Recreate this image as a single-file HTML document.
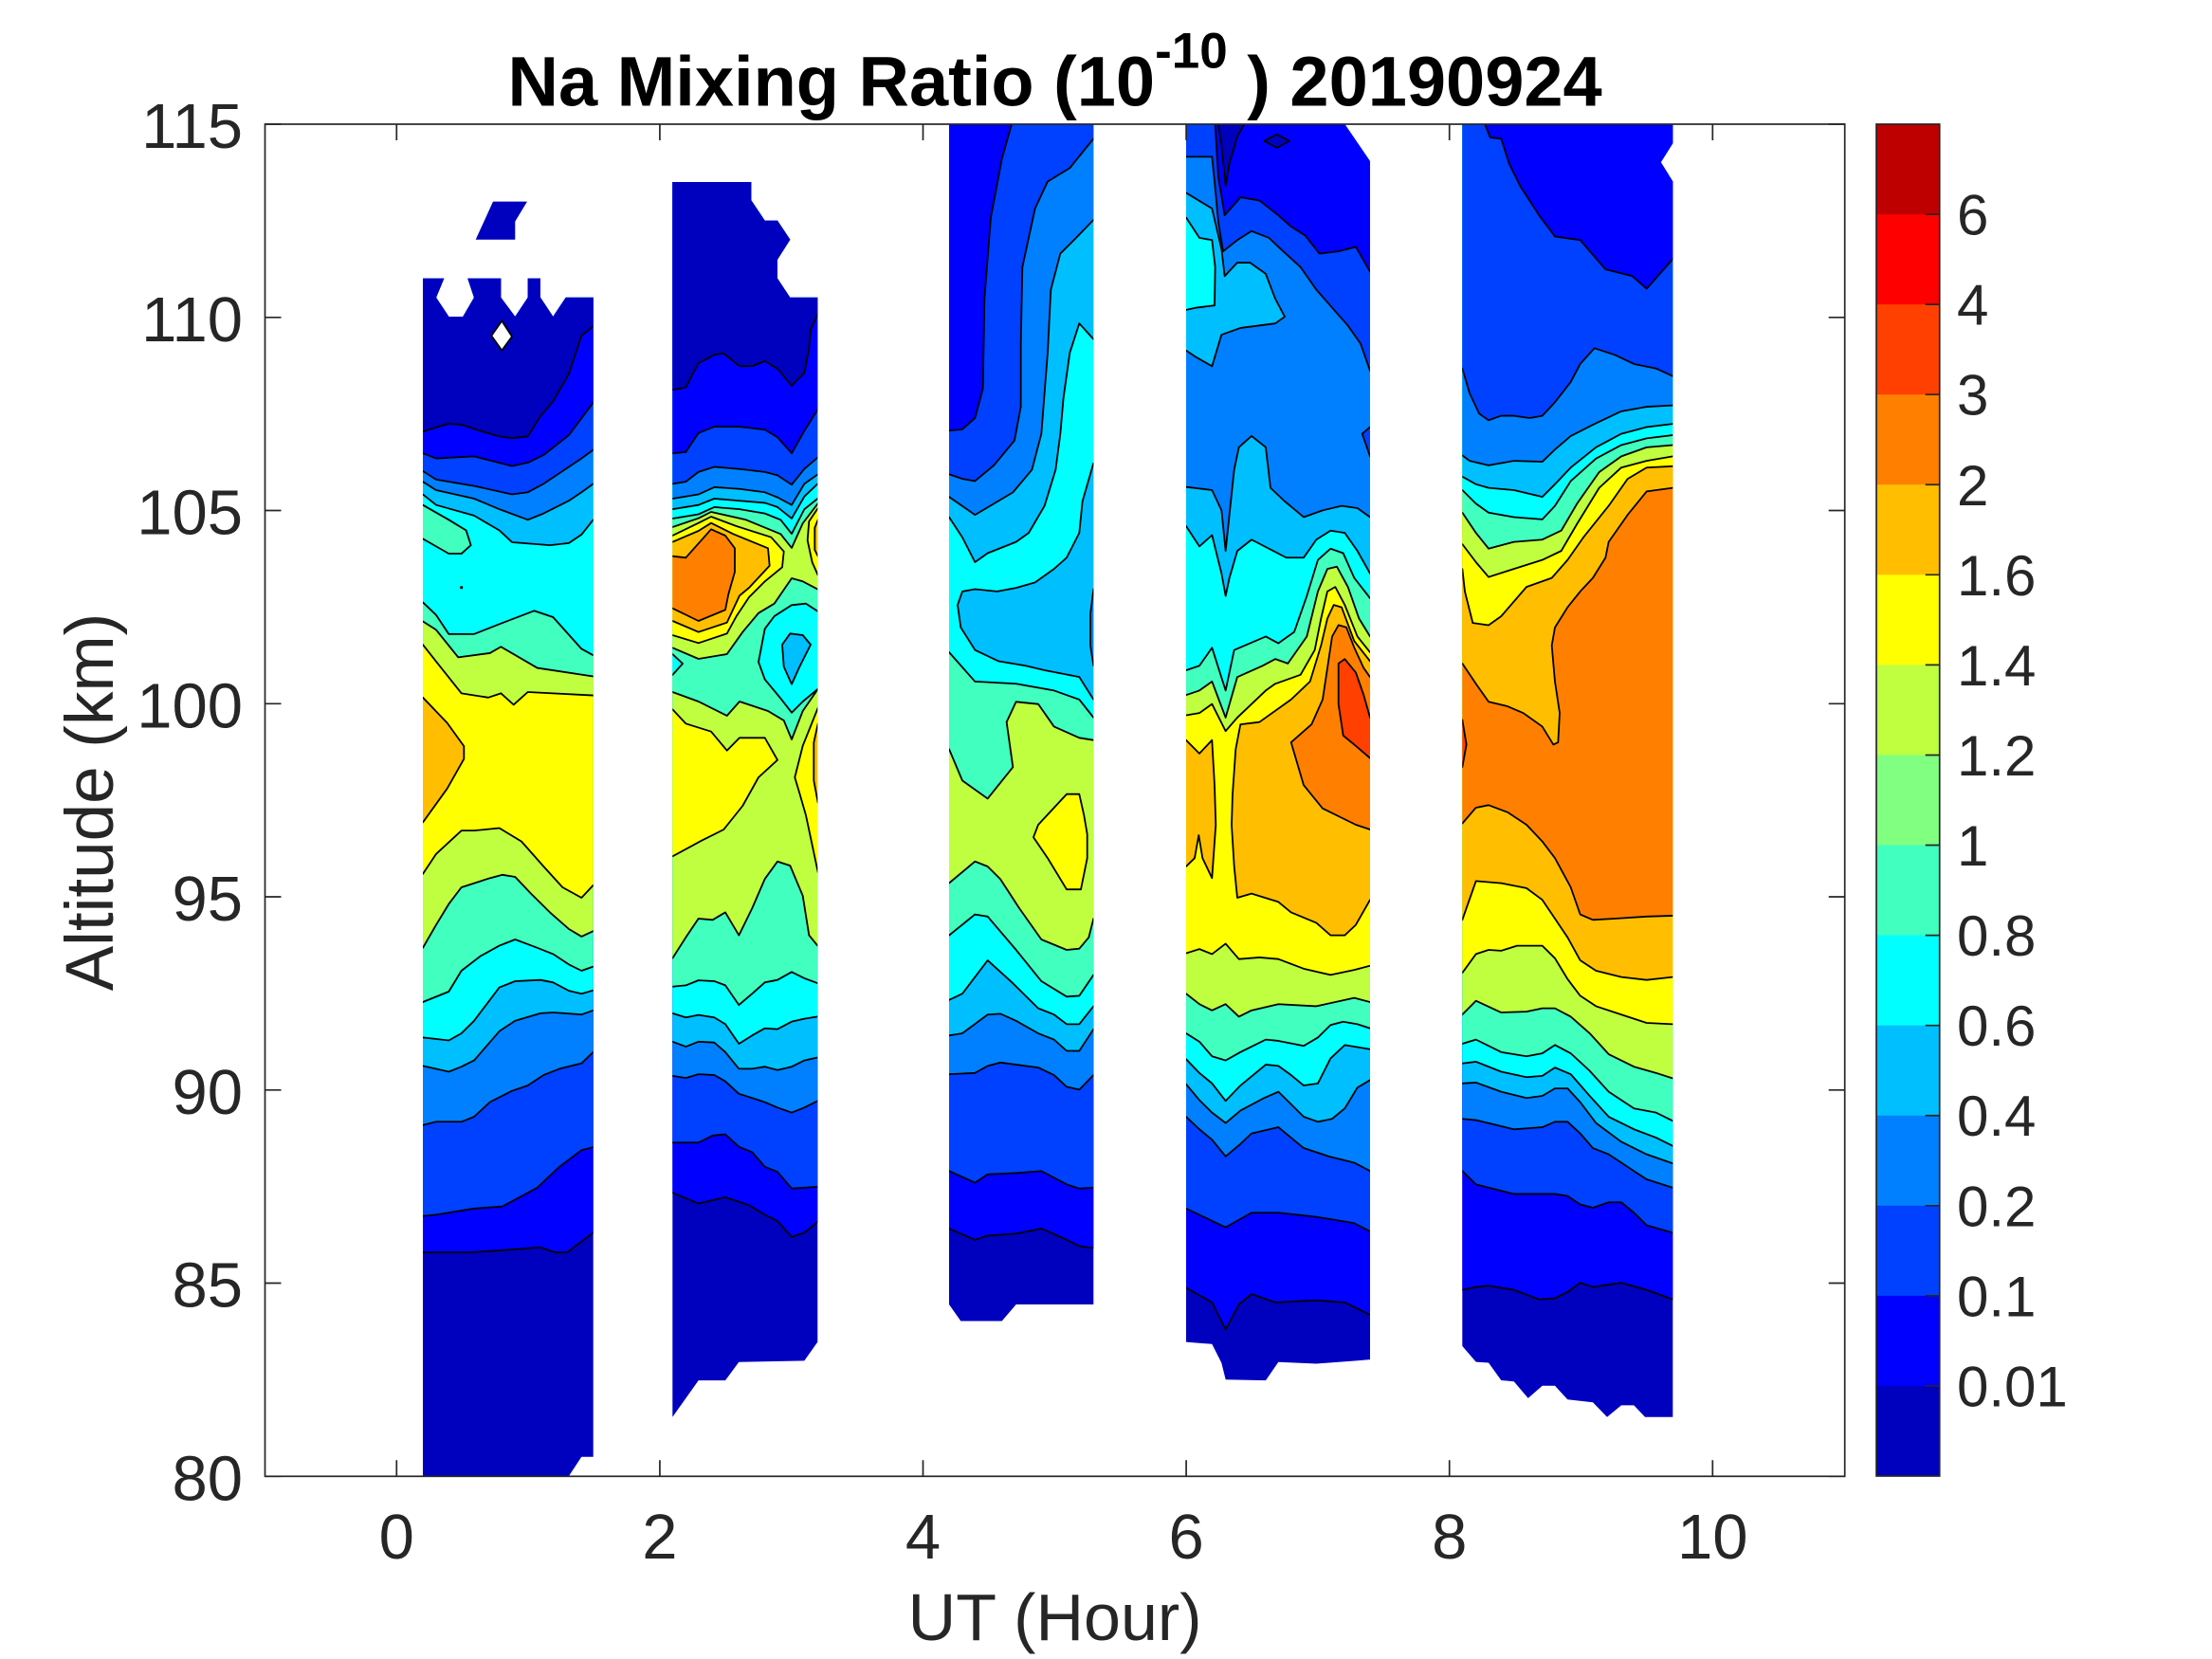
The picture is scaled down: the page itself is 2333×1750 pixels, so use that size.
<!DOCTYPE html>
<html><head><meta charset="utf-8"><style>
html,body{margin:0;padding:0;background:#fff}
svg{display:block}
svg polygon{vector-effect:non-scaling-stroke;stroke:#000;stroke-width:1.8;stroke-linejoin:round}
svg .ns{stroke:none}
.c0{fill:#0000BF}.c1{fill:#0000FF}.c2{fill:#0040FF}.c3{fill:#0080FF}.c4{fill:#00BFFF}.c5{fill:#00FFFF}
.c6{fill:#40FFBF}.c7{fill:#BFFF40}.c8{fill:#FFFF00}.c9{fill:#FFBF00}.c10{fill:#FF8000}.c11{fill:#FF4000}
text{font-family:"Liberation Sans",Arial,sans-serif;fill:#262626}
</style></head><body>
<svg width="2333" height="1750" viewBox="0 0 2333 1750" xmlns="http://www.w3.org/2000/svg">
<defs>
<clipPath id="k1"><polygon class="ns" points="446,293.8 468.3,293.8 460,313.9 473.3,334 488.3,334 500,313.9 493.3,293.8 528.3,293.8 528.3,313.9 543.3,334 556.7,313.9 556.7,293.8 570,293.8 570,313.9 583.3,334 596.7,313.9 625.7,313.9 625.7,1536.7 613.3,1536.7 600,1557 446,1557"/></clipPath>
<clipPath id="k2"><polygon class="ns" points="709.3,192 792.3,192 792.3,211.3 806.7,232.7 820,232.7 833.3,252.8 820,273.8 820,293.8 833.3,313.9 862.3,313.9 862.3,1415.6 848.3,1435.4 779.3,1436.7 765,1456.1 736.7,1456.1 709.3,1494.8"/></clipPath>
<clipPath id="k3"><polygon class="ns" points="1001,131 1153.3,131 1153.3,1376 1071.7,1376 1056.7,1393.5 1013.3,1393.5 1001,1376"/></clipPath>
<clipPath id="k4"><polygon class="ns" points="1251,131 1418.3,131 1445,170.1 1445,1434.1 1430,1435.4 1388.3,1438.5 1348.3,1436.7 1335,1456.1 1292.7,1455.2 1288.3,1437.6 1278.3,1417.8 1251,1415.6"/></clipPath>
<clipPath id="k5"><polygon class="ns" points="1542.3,131 1764.3,131 1764.3,151.1 1751.7,171.1 1764.3,191.5 1764.3,1494.7 1735,1494.7 1723.3,1482.4 1710,1482.4 1695,1494.7 1680,1479.3 1653.3,1476.3 1640,1461.7 1626.7,1461.7 1611.7,1474.9 1596.7,1457.3 1583.3,1456 1570,1437.5 1556.7,1436.6 1542.3,1419.9"/></clipPath>
</defs>

<!-- ============ COLUMN 1 ============ -->
<g clip-path="url(#k1)">
<rect class="c0" x="430" y="200" width="220" height="1400"/>
<g transform="translate(440,870) scale(0.33333,0.44)">
<polygon class="c1" points="-30,1025 18,1025 170,1025 270,1020 390,1013 435,1025 475,1025 557,978 600,978 600,-5000 -30,-5000"/>
<polygon class="c2" points="-30,938 18,938 60,935 180,920 270,915 380,870 450,820 520,780 557,773 600,773 600,-5000 -30,-5000"/>
<polygon class="c3" points="-30,720 18,720 60,712 140,712 180,700 230,665 300,638 350,625 400,600 450,585 520,572 557,545 600,545 600,-5000 -30,-5000"/>
<polygon class="c4" points="-30,578 18,578 100,592 140,580 180,565 260,495 310,470 390,452 430,450 520,455 557,445 600,445 600,-5000 -30,-5000"/>
<polygon class="c5" points="-30,510 18,510 100,517 140,500 180,470 260,390 310,375 390,372 430,378 480,398 520,405 557,397 600,397 600,-5000 -30,-5000"/>
<polygon class="c6" points="-30,425 18,425 100,400 140,350 200,315 260,290 310,275 380,295 430,310 480,335 520,350 557,340 600,340 600,-5000 -30,-5000"/>
<polygon class="c7" points="-30,295 18,295 60,240 100,190 140,150 230,128 270,120 310,125 360,165 420,210 480,250 520,268 557,255 600,255 600,-5000 -30,-5000"/>
<polygon class="c8" points="-30,118 18,118 60,70 140,14 180,14 260,8 330,40 400,100 460,150 520,175 557,145 600,145 600,-5000 -30,-5000"/>
</g>
<g transform="translate(440,180) scale(0.33333,0.44643)">
<polygon class="c7" points="-30,1120 18,1120 60,1160 140,1235 225,1245 265,1235 305,1262 350,1232 557,1240 600,1240 600,-5000 -30,-5000"/>
<polygon class="c6" points="-30,1065 18,1065 60,1085 130,1150 230,1140 265,1125 380,1175 557,1195 600,1195 600,-5000 -30,-5000"/>
<polygon class="c5" points="-30,1020 18,1020 60,1050 100,1095 180,1095 265,1070 370,1040 430,1055 520,1130 557,1145 600,1145 600,-5000 -30,-5000"/>
<polygon class="c4" points="-30,765 18,765 60,790 180,815 260,850 300,878 420,885 480,880 520,860 557,825 600,825 600,-5000 -30,-5000"/>
<polygon class="c3" points="-30,735 18,735 60,755 180,775 260,800 350,825 400,810 480,780 520,760 557,740 600,740 600,-5000 -30,-5000"/>
<polygon class="c2" points="-30,710 18,710 60,730 180,745 300,765 350,760 400,740 480,700 520,680 557,660 600,660 600,-5000 -30,-5000"/>
<polygon class="c1" points="-30,668 18,668 60,680 180,675 300,698 350,690 400,672 480,625 520,585 557,548 600,548 600,-5000 -30,-5000"/>
<polygon class="c0" points="-30,617 18,617 45,610 100,598 140,600 200,615 260,628 300,632 350,628 390,580 430,545 480,480 520,390 557,368 600,368 600,-5000 -30,-5000"/>
<polygon class="c6" points="-30,790 18,790 100,825 155,850 170,885 140,905 100,905 18,870 -30,870"/>
<polygon class="c9" points="-30,1245 18,1245 95,1305 148,1360 148,1390 95,1460 18,1540 -30,1540"/>
</g>
<polygon fill="#fff" points="518.3,354.1 529.3,338.5 540,355 529.3,369.7"/>
<circle cx="486.7" cy="619.7" r="1.6" fill="#000"/>
</g>
<polygon class="c0 ns" points="501.7,252.8 520,212.6 556,212.6 543.3,233.6 543.3,252.8"/>

<!-- ============ COLUMN 2 ============ -->
<g clip-path="url(#k2)">
<rect class="c0" x="690" y="180" width="200" height="1330"/>
<g transform="translate(440,870) scale(0.33333,0.44)">
<polygon class="c1" points="770,882 808,882 890,908 975,893 1050,912 1100,935 1140,950 1185,988 1225,978 1267,952 1310,952 1310,-5000 770,-5000"/>
<polygon class="c2" points="770,762 808,762 890,762 935,745 975,742 1018,772 1060,785 1100,820 1140,832 1185,872 1267,868 1310,868 1310,-5000 770,-5000"/>
<polygon class="c3" points="770,602 808,602 850,607 890,598 940,600 975,615 1018,645 1060,655 1100,665 1140,678 1185,690 1225,678 1267,662 1310,662 1310,-5000 770,-5000"/>
<polygon class="c4" points="770,520 808,520 850,532 890,520 940,522 975,545 1018,585 1060,585 1100,580 1140,588 1185,580 1225,565 1267,558 1310,558 1310,-5000 770,-5000"/>
<polygon class="c5" points="770,452 808,452 850,462 890,456 940,462 975,478 1018,525 1060,505 1100,488 1140,490 1185,472 1225,465 1267,460 1310,460 1310,-5000 770,-5000"/>
<polygon class="c6" points="770,388 808,388 850,385 890,373 940,375 975,385 1018,432 1060,405 1100,378 1140,372 1185,353 1225,368 1267,380 1310,380 1310,-5000 770,-5000"/>
<polygon class="c7" points="770,320 808,320 850,270 890,225 935,228 975,210 1018,265 1060,200 1100,130 1140,88 1180,98 1220,170 1240,265 1267,290 1310,290 1310,-5000 770,-5000"/>
</g>
<polygon class="c6" points="696,730 709.3,730 736.7,740 766.7,755 780,740 810,750 826.7,760 835,780 846.7,750 862.7,726.7 876,726.7 876,-500 696,-500"/>
<g transform="translate(440,180) scale(0.33333,0.44643)">
<polygon class="c5" points="770,822 808,822 890,812 940,795 1020,800 1100,810 1150,825 1185,858 1225,800 1267,775 1310,775 1310,-5000 770,-5000"/>
<polygon class="c4" points="770,800 808,800 890,790 940,775 1020,780 1100,785 1140,795 1185,822 1225,770 1267,740 1310,740 1310,-5000 770,-5000"/>
<polygon class="c3" points="770,775 808,775 890,765 940,748 1020,752 1100,760 1140,772 1185,790 1225,740 1267,718 1310,718 1310,-5000 770,-5000"/>
<polygon class="c2" points="770,740 808,740 850,735 890,712 940,700 1020,705 1100,712 1140,720 1185,742 1225,705 1267,678 1310,678 1310,-5000 770,-5000"/>
<polygon class="c1" points="770,668 808,668 850,665 890,620 940,605 1020,605 1100,612 1140,630 1185,668 1225,615 1267,565 1310,565 1310,-5000 770,-5000"/>
<polygon class="c0" points="770,518 808,518 850,512 890,455 940,435 970,432 1020,462 1060,462 1100,450 1140,468 1185,508 1225,478 1240,420 1245,375 1267,340 1310,340 1310,-5000 770,-5000"/>
</g>
<polygon class="c7" points="696,556 709.3,556 736.7,546.7 750,540 786.7,548.3 823.3,563.3 835,578 846.7,552 862.7,531 876,531 876,621.7 862.7,621.7 846.7,613.3 835,610 816.7,636.7 800,646.7 783.3,666.7 766.7,690 736.7,695 709.3,683.3 696,683.3"/>
<polygon class="c8" points="696,565 709.3,565 736.7,551.7 750,545 776.7,555 813.3,566.7 826.7,581.7 825,598.3 806.7,613.3 790,630 776.7,650 766.7,668.3 736.7,678.3 709.3,670 696,670"/>
<polygon class="c9" points="696,571.7 709.3,571.7 736.7,560 750,551.7 773.3,563.3 810,578.3 811.7,596.7 790,620 780,628.3 766.7,656.7 736.7,666.7 709.3,655 696,655"/>
<polygon class="c10" points="696,586.7 709.3,586.7 723.3,588.3 750,558.3 765,565 775,578.3 775,603.3 768.3,626.7 765,643.3 736.7,655 709.3,641.7 696,641.7"/>
<polygon class="c8" points="876,536 862.7,536 853.3,550 851.7,570 856.7,593.3 862.7,606.7 876,606.7"/>
<polygon class="c9" points="876,548.3 862.7,548.3 859.3,556.7 859.3,580 862.7,586.7 876,586.7"/>
<polygon class="c5" points="800,698.3 806.7,663.3 816.7,650 835,638.3 850,636.7 862.7,645 876,645 876,726.7 862.7,726.7 846.7,740 835,751.7 823.3,736.7 806.7,716.7"/>
<polygon class="c4" points="825,680 833.3,668.3 846.7,670 855,680 843.3,703.3 835,721.7 826.7,703.3"/>
<polygon class="c5" points="696,690 709.3,690 720,700 709.3,712 696,712"/>
<polygon class="c8" points="696,748.3 709.3,748.3 723.3,763.3 750,771.7 766.7,791.7 780,778.3 806.7,778.3 820,801.7 800,820 783.3,850 763.3,875 740,886.7 709.3,903.3 696,903.3"/>
<polygon class="c8" points="876,746.7 862.7,746.7 846.7,786.7 838.3,820 843.3,836.7 850,860 862.7,920 876,920"/>
<polygon class="c9" points="876,763.3 862.7,763.3 858.3,783.3 858.3,823.3 862.7,846.7 876,846.7"/>
</g>

<!-- ============ COLUMN 3 ============ -->
<g clip-path="url(#k3)">
<rect class="c0" x="990" y="125" width="180" height="1280"/>
<g transform="translate(995,870) scale(0.33333,0.44005)">
<polygon class="c1" points="-30,968 18,968 100,995 140,985 230,980 310,968 390,995 430,1010 475,1015 520,1015 520,-5000 -30,-5000"/>
<polygon class="c2" points="-30,830 18,830 100,858 140,838 230,835 310,830 390,862 430,872 475,870 520,870 520,-5000 -30,-5000"/>
<polygon class="c3" points="-30,598 18,598 100,595 140,578 180,570 300,582 350,600 390,628 430,635 475,600 520,600 520,-5000 -30,-5000"/>
<polygon class="c4" points="-30,505 18,505 60,500 140,455 180,453 230,470 300,500 350,515 390,542 430,542 475,490 520,490 520,-5000 -30,-5000"/>
<polygon class="c5" points="-30,420 18,420 60,405 140,325 220,380 300,440 350,455 390,478 430,478 475,435 520,435 520,-5000 -30,-5000"/>
<polygon class="c6" points="-30,265 18,265 100,215 140,220 230,300 310,375 390,412 430,410 475,360 520,360 520,-5000 -30,-5000"/>
<polygon class="c7" points="-30,140 18,140 100,88 140,100 180,130 240,200 310,275 390,300 430,297 460,270 475,225 520,225 520,-5000 -30,-5000"/>
</g>
<g transform="translate(995,125) scale(0.33333,0.47513)">
<polygon class="c6" points="-30,1400 18,1400 60,1470 140,1510 220,1440 200,1340 230,1295 300,1300 350,1350 430,1375 475,1380 520,1380 520,-5000 -30,-5000"/>
<polygon class="c5" points="-30,1185 18,1185 100,1250 230,1255 350,1270 430,1290 475,1330 520,1330 520,-5000 -30,-5000"/>
<polygon class="c4" points="-30,885 18,885 60,930 100,985 140,965 230,940 270,920 320,860 355,780 370,700 380,620 400,520 430,455 475,490 520,490 520,-5000 -30,-5000"/>
<polygon class="c3" points="-30,840 18,840 100,880 220,830 280,780 310,700 330,520 340,380 370,300 420,265 475,225 520,225 520,-5000 -30,-5000"/>
<polygon class="c2" points="-30,790 18,790 60,800 100,805 160,770 225,715 245,640 245,500 250,330 290,200 330,140 400,110 440,75 475,45 520,45 520,-5000 -30,-5000"/>
<polygon class="c1" points="-30,693 18,693 60,690 100,665 125,600 130,400 150,220 185,90 215,15 215,-5000 -30,-5000"/>
<polygon class="c4" points="520,765 475,765 440,850 430,920 390,975 350,1000 290,1030 230,1042 170,1050 100,1045 60,1050 45,1080 55,1130 100,1180 175,1205 260,1215 320,1225 430,1240 475,1290 520,1290"/>
<polygon class="c3" points="520,1045 475,1045 465,1100 465,1170 475,1215 520,1215"/>
</g>
<polygon class="c8" points="1095,870 1125,837.7 1138.3,837.7 1143.3,860 1146.7,880 1146.7,905.2 1140,938.2 1125,938.2 1105,905.2 1090,883.2"/>
</g>

<!-- ============ COLUMN 4 ============ -->
<g clip-path="url(#k4)">
<rect class="c0" x="1240" y="125" width="220" height="1340"/>
<g transform="translate(995,870) scale(0.33333,0.44005)">
<polygon class="c1" points="730,1110 768,1110 850,1145 893,1210 935,1150 975,1125 1050,1145 1180,1140 1270,1145 1350,1175 1390,1175 1390,-5000 730,-5000"/>
<polygon class="c2" points="730,920 768,920 893,965 975,930 1060,930 1180,940 1300,955 1350,975 1390,975 1390,-5000 730,-5000"/>
<polygon class="c3" points="730,700 768,700 810,730 850,755 893,795 940,765 975,740 1060,725 1100,750 1140,775 1220,795 1300,810 1350,830 1390,830 1390,-5000 730,-5000"/>
<polygon class="c4" points="730,622 768,622 810,660 850,690 893,715 940,685 1015,655 1060,640 1140,700 1185,712 1230,705 1270,680 1310,630 1350,612 1390,612 1390,-5000 730,-5000"/>
<polygon class="c5" points="730,562 768,562 810,595 850,620 893,662 940,625 1020,575 1060,578 1100,600 1140,625 1185,620 1225,560 1270,528 1350,538 1390,538 1390,-5000 730,-5000"/>
<polygon class="c6" points="730,500 768,500 810,520 850,555 893,565 940,545 1020,515 1060,518 1140,530 1185,510 1225,480 1265,472 1310,478 1350,488 1390,488 1390,-5000 730,-5000"/>
<polygon class="c7" points="730,405 768,405 810,430 850,445 893,430 935,460 975,445 1060,430 1180,435 1300,415 1350,425 1390,425 1390,-5000 730,-5000"/>
<polygon class="c8" points="730,308 768,308 810,298 850,310 893,285 935,322 1000,318 1060,322 1140,345 1225,360 1300,348 1350,338 1390,338 1390,-5000 730,-5000"/>
</g>
<g transform="translate(995,125) scale(0.33333,0.47513)">
<polygon class="c7" points="730,1325 768,1325 810,1320 850,1300 893,1360 930,1330 1020,1270 1050,1255 1130,1235 1175,1180 1195,1110 1215,1050 1240,1040 1270,1080 1310,1150 1350,1185 1390,1185 1390,-5000 730,-5000"/>
<polygon class="c6" points="730,1280 768,1280 810,1270 850,1250 893,1330 930,1240 1010,1215 1050,1200 1090,1210 1150,1150 1185,1050 1215,1000 1245,995 1280,1040 1315,1110 1350,1150 1390,1150 1390,-5000 730,-5000"/>
<polygon class="c5" points="730,1225 768,1225 810,1215 850,1175 893,1270 920,1180 1020,1150 1060,1165 1110,1140 1150,1060 1185,980 1225,955 1265,965 1300,1020 1350,1065 1390,1065 1390,-5000 730,-5000"/>
<polygon class="c4" points="730,905 768,905 810,950 850,925 880,1010 893,1060 905,1020 930,960 975,935 1030,955 1085,975 1140,975 1180,935 1225,915 1270,920 1310,960 1350,1010 1390,1010 1390,-5000 730,-5000"/>
<polygon class="c3" points="730,818 768,818 850,825 880,870 893,960 905,880 920,780 935,730 975,705 1020,730 1035,820 1080,850 1140,885 1200,870 1260,860 1310,865 1350,885 1390,885 1390,-5000 730,-5000"/>
<polygon class="c2" points="730,85 768,85 850,85 858,140 870,230 885,295 930,270 975,250 1030,265 1060,285 1130,330 1180,380 1230,420 1280,460 1320,500 1350,560 1390,560 1390,-5000 730,-5000"/>
<polygon class="c1" points="860,-5000 860,15 870,130 890,215 940,175 1000,182 1060,215 1100,240 1145,260 1190,300 1250,295 1305,285 1350,340 1390,340 1390,-5000"/>
<polygon class="c4" points="730,165 768,165 850,200 880,290 890,350 930,320 970,320 1020,345 1050,400 1080,440 1050,455 940,465 880,480 850,550 800,530 768,515 730,515"/>
<polygon class="c5" points="730,220 768,220 810,265 850,270 860,330 858,415 800,420 768,425 730,425"/>
<polygon class="c2" points="1390,685 1350,685 1325,700 1350,750 1390,750"/>
<polygon class="c0" points="870,-20 870,15 880,60 893,150 905,100 930,40 950,15 950,-20"/>
<polygon class="c0" points="1015,50 1055,35 1095,50 1055,65"/>
</g>
<polygon class="c9" points="1238,780.7 1251,780.7 1265,794.9 1278.3,780.7 1281,828.2 1282.3,870 1278.3,926.3 1268.3,905.2 1264.3,881 1260,905.2 1251,914 1238,914"/>
<polygon class="c9" points="1303.3,790.2 1308.3,764.1 1328.3,761.7 1361.7,737.9 1381.7,718.9 1393.3,680.9 1400,652.4 1406.7,638.1 1415,640.6 1428.3,676.2 1445,697.5 1460,697.5 1460,949.2 1445,949.2 1430,975.6 1418.3,986.6 1403.3,986.6 1388.3,973.4 1361.7,962.4 1348.3,951.4 1320,942.6 1305,947 1301.7,914 1299,870 1300,837.7"/>
<polygon class="c10" points="1361.7,783.1 1383.3,764.1 1395,737.9 1400,704.7 1405,671.4 1411.7,659.4 1420,661.7 1428.3,683.1 1438.3,704.7 1445,714.2 1460,714.2 1460,875 1445,875 1430,870 1395,852.8 1375,828.2"/>
<polygon class="c11" points="1411.7,699.9 1418.3,695.2 1430,709.4 1438.3,733.2 1445,757 1460,757 1460,799.7 1445,799.7 1428.3,785.4 1416.7,775.9 1411.7,742.7 1411.7,709.4"/>
</g>

<!-- ============ COLUMN 5 ============ -->
<g clip-path="url(#k5)">
<rect class="c0" x="1530" y="125" width="250" height="1390"/>
<g transform="translate(1530,870) scale(0.33333,0.44005)">
<polygon class="c1" points="0,1115 37,1115 80,1108 120,1105 200,1115 280,1138 330,1135 370,1120 410,1098 450,1108 540,1098 620,1115 703,1138 740,1138 740,-5000 0,-5000"/>
<polygon class="c2" points="0,830 37,830 80,862 200,885 330,885 370,890 410,910 450,918 500,905 540,905 580,930 620,960 703,978 740,978 740,-5000 0,-5000"/>
<polygon class="c3" points="0,705 37,705 80,708 200,730 290,725 330,712 370,712 410,740 450,775 500,790 580,830 620,850 703,870 740,870 740,-5000 0,-5000"/>
<polygon class="c4" points="0,620 37,620 80,618 160,640 240,655 290,650 330,632 370,632 410,665 460,715 540,760 620,790 703,812 740,812 740,-5000 0,-5000"/>
<polygon class="c5" points="0,572 37,572 80,568 160,592 240,605 290,602 330,582 380,598 440,650 500,700 580,730 650,750 703,770 740,770 740,-5000 0,-5000"/>
<polygon class="c6" points="0,525 37,525 80,515 160,545 240,555 290,548 330,528 380,548 440,590 500,640 580,680 650,690 703,710 740,710 740,-5000 0,-5000"/>
<polygon class="c7" points="0,455 37,455 80,422 160,450 240,448 290,440 330,440 380,460 440,500 500,550 580,580 650,595 703,608 740,608 740,-5000 0,-5000"/>
<polygon class="c8" points="0,355 37,355 80,310 120,300 160,302 210,290 290,290 330,320 370,370 410,410 460,435 540,455 620,475 703,478 740,478 740,-5000 0,-5000"/>
<polygon class="c9" points="0,228 37,228 80,135 160,140 240,152 290,180 330,225 370,270 410,325 460,350 540,365 620,372 703,365 740,365 740,-5000 0,-5000"/>
<polygon class="c10" points="0,-3 37,-3 80,-41 120,-47 180,-30 240,0 290,40 330,80 380,150 410,215 450,228 520,225 620,220 703,218 740,218 740,-5000 0,-5000"/>
</g>
<g transform="translate(1530,125) scale(0.33333,0.47513)">
<polygon class="c9" points="0,1210 37,1210 80,1255 120,1295 180,1305 230,1320 290,1350 325,1390 340,1385 345,1320 330,1250 320,1170 330,1130 370,1085 410,1050 450,1020 490,975 500,940 560,880 620,828 703,820 740,820 740,-5000 0,-5000"/>
<polygon class="c8" points="0,1000 37,1000 45,1050 70,1120 120,1125 160,1105 240,1040 320,1020 370,980 420,930 500,860 560,800 620,775 703,772 740,772 740,-5000 0,-5000"/>
<polygon class="c7" points="0,945 37,945 80,985 120,1018 200,1000 290,980 350,960 400,900 470,820 540,775 620,760 703,750 740,750 740,-5000 0,-5000"/>
<polygon class="c6" points="0,875 37,875 80,920 120,955 200,940 290,935 350,915 400,855 470,785 540,750 620,730 703,725 740,725 740,-5000 0,-5000"/>
<polygon class="c5" points="0,825 37,825 80,855 120,875 200,885 290,890 330,860 380,805 460,755 540,725 620,710 703,703 740,703 740,-5000 0,-5000"/>
<polygon class="c4" points="0,795 37,795 80,812 120,820 200,825 290,840 330,812 380,775 460,730 540,700 620,685 703,678 740,678 740,-5000 0,-5000"/>
<polygon class="c3" points="0,748 37,748 60,760 120,770 200,760 290,762 330,735 380,705 450,680 540,650 620,640 703,637 740,637 740,-5000 0,-5000"/>
<polygon class="c2" points="0,555 37,555 60,610 90,655 120,670 160,660 200,660 250,665 290,660 330,630 380,585 410,545 455,510 520,525 580,545 650,555 703,572 740,572 740,-5000 0,-5000"/>
<polygon class="c1" points="110,-5000 110,15 125,42 160,45 185,100 220,150 280,215 330,262 410,270 490,335 575,350 620,378 703,312 740,312 740,-5000"/>
<polygon class="c11" points="0,1335 37,1335 50,1390 37,1440 0,1440"/>
</g>
</g>

<!-- ============ AXES ============ -->
<g stroke="#262626" stroke-width="1.7" fill="none">
<rect x="279.5" y="131" width="1666.2" height="1426.3"/>
<path d="M418.3,1557.3v-17M695.9,1557.3v-17M973.5,1557.3v-17M1251.1,1557.3v-17M1528.7,1557.3v-17M1806.3,1557.3v-17
M418.3,131v17M695.9,131v17M973.5,131v17M1251.1,131v17M1528.7,131v17M1806.3,131v17
M279.5,131h17M279.5,334.8h17M279.5,538.5h17M279.5,742.3h17M279.5,946h17M279.5,1149.8h17M279.5,1353.5h17M279.5,1557.3h17
M1945.7,131h-17M1945.7,334.8h-17M1945.7,538.5h-17M1945.7,742.3h-17M1945.7,946h-17M1945.7,1149.8h-17M1945.7,1353.5h-17M1945.7,1557.3h-17"/>
</g>
<g font-size="67" text-anchor="end">
<text x="256" y="156">115</text>
<text x="256" y="359.8">110</text>
<text x="256" y="563.5">105</text>
<text x="256" y="767.3">100</text>
<text x="256" y="971">95</text>
<text x="256" y="1174.8">90</text>
<text x="256" y="1378.5">85</text>
<text x="256" y="1582.3">80</text>
</g>
<g font-size="67" text-anchor="middle">
<text x="418.3" y="1644">0</text>
<text x="695.9" y="1644">2</text>
<text x="973.5" y="1644">4</text>
<text x="1251.1" y="1644">6</text>
<text x="1528.7" y="1644">8</text>
<text x="1806.3" y="1644">10</text>
</g>
<text x="1112.6" y="1730" font-size="70" text-anchor="middle">UT (Hour)</text>
<text transform="translate(119,846) rotate(-90)" font-size="71" text-anchor="middle">Altitude (km)</text>
<text x="1112.6" y="111.7" font-size="74" font-weight="bold" text-anchor="middle" style="fill:#000">Na Mixing Ratio (10<tspan font-size="53" dy="-40">-10</tspan><tspan dy="40"> ) 20190924</tspan></text>

<!-- ============ COLORBAR ============ -->
<g>
<rect x="1979" y="131" width="66.7" height="95.6" fill="#BF0000"/>
<rect x="1979" y="226.07" width="66.7" height="95.6" fill="#FF0000"/>
<rect x="1979" y="321.13" width="66.7" height="95.6" fill="#FF4000"/>
<rect x="1979" y="416.2" width="66.7" height="95.6" fill="#FF8000"/>
<rect x="1979" y="511.27" width="66.7" height="95.6" fill="#FFBF00"/>
<rect x="1979" y="606.33" width="66.7" height="95.6" fill="#FFFF00"/>
<rect x="1979" y="701.4" width="66.7" height="95.6" fill="#BFFF40"/>
<rect x="1979" y="796.47" width="66.7" height="95.6" fill="#80FF80"/>
<rect x="1979" y="891.53" width="66.7" height="95.6" fill="#40FFBF"/>
<rect x="1979" y="986.6" width="66.7" height="95.6" fill="#00FFFF"/>
<rect x="1979" y="1081.67" width="66.7" height="95.6" fill="#00BFFF"/>
<rect x="1979" y="1176.73" width="66.7" height="95.6" fill="#0080FF"/>
<rect x="1979" y="1271.8" width="66.7" height="95.6" fill="#0040FF"/>
<rect x="1979" y="1366.87" width="66.7" height="95.6" fill="#0000FF"/>
<rect x="1979" y="1461.93" width="66.7" height="95.07" fill="#0000BF"/>
</g>
<g stroke="#262626" stroke-width="1.7" fill="none">
<rect x="1979" y="131" width="66.7" height="1426"/>
<path d="M2045.7,226.07h-15M2045.7,321.13h-15M2045.7,416.2h-15M2045.7,511.27h-15M2045.7,606.33h-15M2045.7,701.4h-15M2045.7,796.47h-15M2045.7,891.53h-15M2045.7,986.6h-15M2045.7,1081.67h-15M2045.7,1176.73h-15M2045.7,1271.8h-15M2045.7,1366.87h-15M2045.7,1461.93h-15"/>
</g>
<g font-size="60">
<text x="2064" y="247.6">6</text>
<text x="2064" y="342.6">4</text>
<text x="2064" y="437.7">3</text>
<text x="2064" y="532.8">2</text>
<text x="2064" y="627.8">1.6</text>
<text x="2064" y="722.9">1.4</text>
<text x="2064" y="818">1.2</text>
<text x="2064" y="913">1</text>
<text x="2064" y="1008.1">0.8</text>
<text x="2064" y="1103.2">0.6</text>
<text x="2064" y="1198.2">0.4</text>
<text x="2064" y="1293.3">0.2</text>
<text x="2064" y="1388.4">0.1</text>
<text x="2064" y="1483.4">0.01</text>
</g>
</svg>
</body></html>
